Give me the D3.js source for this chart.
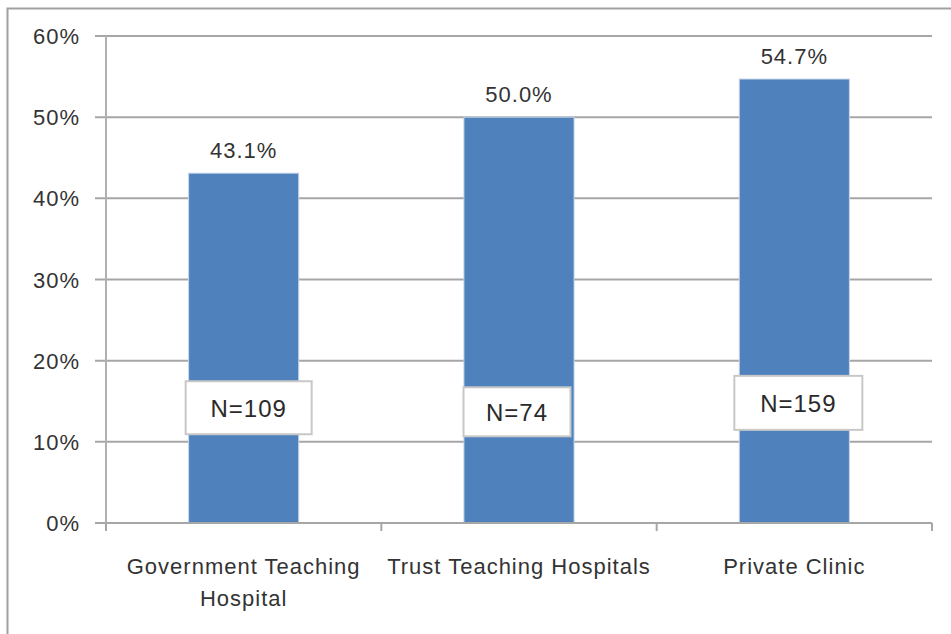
<!DOCTYPE html>
<html>
<head>
<meta charset="utf-8">
<script src="https://cdn.jsdelivr.net/npm/d3@7"></script>
<style>
  body { margin: 0; background: #fff; }
  text { font-family: "Liberation Sans", Arial, sans-serif; fill: #333; }
</style>
</head>
<body>
<div id="chart"></div>
<script>
// data
const categories = ['Government Teaching Hospital', 'Trust Teaching Hospitals', 'Private Clinic'];
const categoryLines = [['Government Teaching', 'Hospital'], ['Trust Teaching Hospitals'], ['Private Clinic']];
const percentValues = [43.1, 50.0, 54.7];
const sampleSizes = [109, 74, 159];
const yTicks = [0, 10, 20, 30, 40, 50, 60];

const width = 951;
const height = 634;
const margin = { top: 36, right: 19, bottom: 111, left: 106 };

const svg = d3.select('#chart')
  .append('svg')
  .attr('width', width)
  .attr('height', height);

// outer frame (only top and left edges show in the crop)
svg.append('path')
  .attr('d', `M7.5,${height} V8.5 H${width}`)
  .attr('fill', 'none')
  .attr('stroke', '#a0a0a0')
  .attr('stroke-width', 2);

const x = d3.scaleBand()
  .domain(categories)
  .range([margin.left, width - margin.right])
  .paddingInner(0.6)
  .paddingOuter(0.3);

const y = d3.scaleLinear()
  .domain([0, 60])
  .range([height - margin.bottom, margin.top]);

// gridlines + y tick marks
svg.append('g')
  .selectAll('line')
  .data(yTicks)
  .enter()
  .append('line')
  .attr('x1', margin.left - 11)
  .attr('x2', width - margin.right)
  .attr('y1', d => y(d))
  .attr('y2', d => y(d))
  .attr('stroke', '#a6a6a6')
  .attr('stroke-width', 2);

// y tick labels
svg.append('g')
  .selectAll('text')
  .data(yTicks)
  .enter()
  .append('text')
  .attr('x', 80)
  .attr('y', d => y(d) + 8)
  .attr('text-anchor', 'end')
  .style('font-size', '22px')
  .style('letter-spacing', '1px')
  .text(d => d + '%');

// y axis line
svg.append('line')
  .attr('x1', margin.left).attr('x2', margin.left)
  .attr('y1', y(60)).attr('y2', y(0) + 8)
  .attr('stroke', '#b0b0b0')
  .attr('stroke-width', 2);

// bars
svg.append('g')
  .selectAll('rect')
  .data(categories)
  .enter()
  .append('rect')
  .attr('x', d => x(d))
  .attr('y', (d, i) => y(percentValues[i]))
  .attr('width', x.bandwidth())
  .attr('height', (d, i) => y(0) - y(percentValues[i]))
  .attr('fill', '#4f81bd')
  .attr('stroke', '#c6d5ea')
  .attr('stroke-width', 1);

// x axis line and category boundary ticks
const step = x.step();
const bounds = d3.range(categories.length + 1).map(i => margin.left + i * step);
svg.append('line')
  .attr('x1', margin.left).attr('x2', width - margin.right)
  .attr('y1', y(0)).attr('y2', y(0))
  .attr('stroke', '#a6a6a6')
  .attr('stroke-width', 2);
svg.append('g')
  .selectAll('line')
  .data(bounds)
  .enter()
  .append('line')
  .attr('x1', d => d).attr('x2', d => d)
  .attr('y1', y(0)).attr('y2', y(0) + 8)
  .attr('stroke', '#a6a6a6')
  .attr('stroke-width', 2);

// value labels
svg.append('g')
  .selectAll('text')
  .data(categories)
  .enter()
  .append('text')
  .attr('x', d => x(d) + x.bandwidth() / 2)
  .attr('y', (d, i) => y(percentValues[i]) - 15)
  .attr('text-anchor', 'middle')
  .style('font-size', '22px')
  .style('letter-spacing', '1px')
  .text((d, i) => percentValues[i].toFixed(1) + '%');

// N= boxes (slightly offset like the hand placed originals)
const boxShift = [[5, 14.2, 126, 53], [-2, 13.7, 107, 49], [4, 14.8, 128, 54]];
const nBoxes = svg.append('g')
  .selectAll('g')
  .data(categories)
  .enter()
  .append('g')
  .attr('transform', (d, i) =>
    `translate(${x(d) + x.bandwidth() / 2 + boxShift[i][0]},${y(boxShift[i][1])})`);

nBoxes.append('rect')
  .attr('x', (d, i) => -boxShift[i][2] / 2)
  .attr('y', (d, i) => -boxShift[i][3] / 2)
  .attr('width', (d, i) => boxShift[i][2])
  .attr('height', (d, i) => boxShift[i][3])
  .attr('fill', '#fff')
  .attr('stroke', '#c8c8c8')
  .attr('stroke-width', 2);

nBoxes.append('text')
  .attr('y', 9)
  .attr('text-anchor', 'middle')
  .style('font-size', '24px')
  .style('letter-spacing', '1px')
  .style('fill', '#2a2a2a')
  .text((d, i) => 'N=' + sampleSizes[i]);

// category labels
const catLabels = svg.append('g')
  .selectAll('text')
  .data(categories)
  .enter()
  .append('text')
  .attr('text-anchor', 'middle')
  .style('font-size', '22px')
  .style('letter-spacing', '1px');

catLabels.each(function (d, i) {
  d3.select(this)
    .selectAll('tspan')
    .data(categoryLines[i])
    .enter()
    .append('tspan')
    .attr('x', x(d) + x.bandwidth() / 2)
    .attr('y', (t, j) => y(0) + 51 + j * 32)
    .text(t => t);
});
</script>
</body>
</html>
